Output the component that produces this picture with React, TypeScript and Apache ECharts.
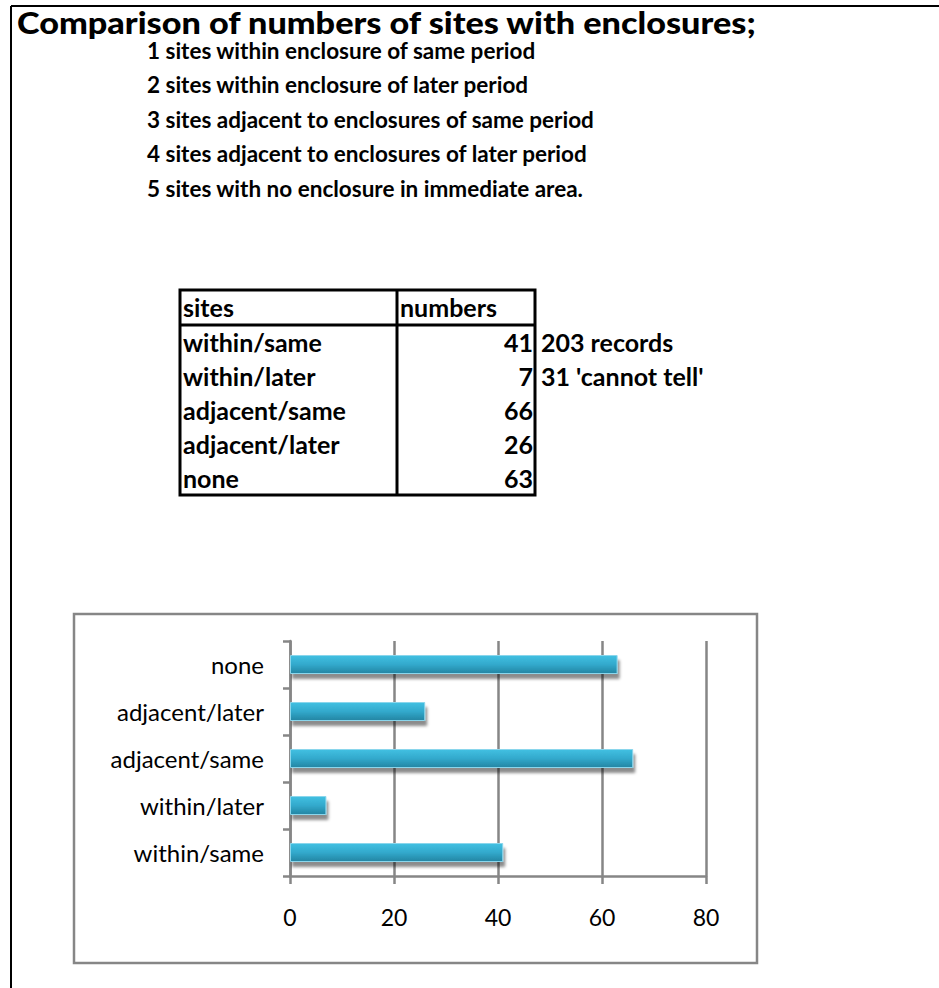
import React, { useEffect, useRef } from "react";
import * as echarts from "echarts";

const titleText = "Comparison of numbers of sites with enclosures;";
const definitions = [
  "1 sites within enclosure of same period",
  "2 sites within enclosure of later period",
  "3 sites adjacent to enclosures of same period",
  "4 sites adjacent to enclosures of later period",
  "5 sites with no enclosure in immediate area.",
];
const tableHeaders = ["sites", "numbers"];
const categories = ["within/same", "within/later", "adjacent/same", "adjacent/later", "none"];
const numbers = [41, 7, 66, 26, 63];
const notes = ["203 records", "31 'cannot tell'"];
const xMin = 0;
const xMax = 80;
const xInterval = 20;

const FONT = "Lato, 'Noto Sans', sans-serif";
const GRAY = "#868686";

export default function App() {
  const ref = useRef<HTMLDivElement>(null);
  useEffect(() => {
    if (!ref.current) return;
    const chart = echarts.init(ref.current, null, { renderer: "svg" });

    const graphics: any[] = [];
    // page border (top and left)
    graphics.push({ type: "line", shape: { x1: 11, y1: 6, x2: 939, y2: 6 }, style: { stroke: "#000", lineWidth: 2 } });
    graphics.push({ type: "line", shape: { x1: 11, y1: 6, x2: 11, y2: 988 }, style: { stroke: "#000", lineWidth: 2 } });
    // title
    graphics.push({
      type: "text",
      x: 17,
      y: 22,
      scaleX: 1.14,
      style: { text: titleText, x: 0, y: 0, font: `900 30px ${FONT}`, fill: "#000", textAlign: "left", textVerticalAlign: "middle" },
    });
    definitions.forEach((d, i) => {
      graphics.push({
        type: "text",
        style: { text: d, x: 147, y: 50 + i * 34.5, font: `bold 22.5px ${FONT}`, fill: "#000", textAlign: "left", textVerticalAlign: "middle" },
      });
    });
    // table
    const tL = 180, tR = 535, tT = 290, tB = 495, tDiv = 397, hB = 325;
    const rowH = 34;
    const tf = `bold 25px ${FONT}`;
    graphics.push({ type: "rect", shape: { x: tL, y: tT, width: tR - tL, height: tB - tT }, style: { fill: "none", stroke: "#000", lineWidth: 3 } });
    graphics.push({ type: "line", shape: { x1: tDiv, y1: tT, x2: tDiv, y2: tB }, style: { stroke: "#000", lineWidth: 3 } });
    graphics.push({ type: "line", shape: { x1: tL, y1: hB, x2: tR, y2: hB }, style: { stroke: "#000", lineWidth: 3 } });
    graphics.push({ type: "text", style: { text: tableHeaders[0], x: tL + 3, y: 307, font: tf, fill: "#000", textVerticalAlign: "middle" } });
    graphics.push({ type: "text", style: { text: tableHeaders[1], x: tDiv + 3, y: 307, font: tf, fill: "#000", textVerticalAlign: "middle" } });
    categories.forEach((c, i) => {
      const y = 342 + i * rowH;
      graphics.push({ type: "text", style: { text: c, x: tL + 3, y, font: tf, fill: "#000", textVerticalAlign: "middle" } });
      graphics.push({ type: "text", style: { text: String(numbers[i]), x: tR - 2, y, font: tf, fill: "#000", textAlign: "right", textVerticalAlign: "middle" } });
    });
    notes.forEach((n, i) => {
      graphics.push({ type: "text", style: { text: n, x: tR + 6, y: 342 + i * rowH, font: tf, fill: "#000", textVerticalAlign: "middle" } });
    });
    // chart box
    graphics.push({ type: "rect", z: -1, shape: { x: 74, y: 614, width: 683, height: 349 }, style: { fill: "#fff", stroke: GRAY, lineWidth: 2.5 } });

    chart.setOption({
      animation: false,
      backgroundColor: "#fff",
      graphic: graphics,
      grid: { left: 290, right: 939 - 706, top: 641, bottom: 988 - 876, containLabel: false },
      xAxis: {
        type: "value",
        min: xMin,
        max: xMax,
        interval: xInterval,
        axisLine: { show: true, lineStyle: { color: GRAY, width: 2.5 } },
        axisTick: { show: true, length: 8, lineStyle: { color: GRAY, width: 2.5 } },
        splitLine: { show: true, lineStyle: { color: GRAY, width: 2.5 } },
        axisLabel: { color: "#000", fontFamily: FONT, fontSize: 23, margin: 29 },
      },
      yAxis: {
        type: "category",
        data: categories,
        axisLine: { show: true, lineStyle: { color: GRAY, width: 2.5 } },
        axisTick: { show: true, length: 7, lineStyle: { color: GRAY, width: 2.5 } },
        axisLabel: { color: "#000", fontFamily: FONT, fontSize: 24, margin: 26 },
      },
      series: [
        {
          type: "bar",
          data: numbers,
          barWidth: 19,
          itemStyle: {
            color: new echarts.graphic.LinearGradient(0, 0, 0, 1, [
              { offset: 0, color: "#42c0e2" },
              { offset: 0.5, color: "#32a9cc" },
              { offset: 1, color: "#2485a3" },
            ]),
            borderColor: "#8ad6ec",
            borderWidth: 1,
            shadowColor: "rgba(0,0,0,0.45)",
            shadowBlur: 3,
            shadowOffsetX: 2,
            shadowOffsetY: 5,
          },
        },
      ],
    });
    return () => chart.dispose();
  }, []);
  return (
    <div
      ref={ref}
      style={{ position: "absolute", left: 0, top: 0, width: 939, height: 988, background: "#fff" }}
    />
  );
}
